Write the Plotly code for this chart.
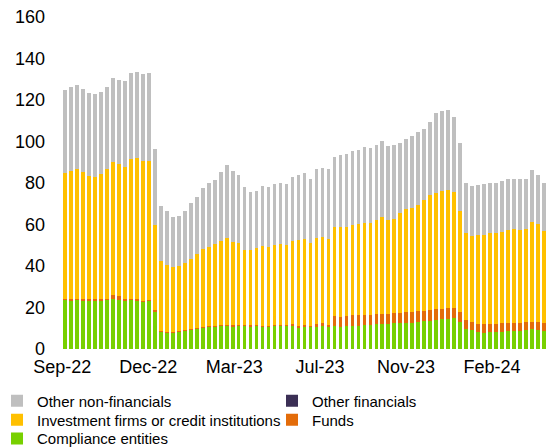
import plotly.graph_objects as go

# Stacked segment values, weekly observations, 81 bars
compliance = [23.8, 23.6, 23.7, 23.6, 23.5, 23.6, 23.4, 23.7, 23.9, 23.5,
              23.6, 23.9, 23.6, 22.8, 23.3, 18.3, 8.4, 8.0, 8.0, 8.5,
              8.9, 9.2, 10.0, 10.4, 10.8, 10.8, 11.1, 11.1, 11.0, 11.3,
              11.1, 10.8, 11.3, 10.8, 10.8, 11.1, 11.3, 11.3, 11.3, 10.4,
              10.8, 10.8, 10.8, 11.1, 10.8, 11.1, 10.8, 11.1, 11.3, 11.2,
              11.6, 11.6, 11.9, 11.9, 11.9, 12.4, 12.5, 12.5, 12.7, 13.0,
              13.3, 13.7, 14.0, 14.5, 14.6, 15.1, 13.0, 9.8, 9.0, 8.0,
              7.9, 8.0, 8.4, 8.4, 8.7, 8.7, 8.8, 9.2, 9.5, 9.2,
              8.7]
funds = [0.5, 0.5, 0.5, 0.5, 0.5, 0.5, 0.5, 0.5, 2.1, 2.0,
         0.4, 0.3, 0.4, 0.5, 0.5, 0.6, 0.2, 0.2, 0.2, 0.2,
         0.2, 0.3, 0.3, 0.3, 0.5, 0.5, 0.5, 0.6, 0.5, 0.5,
         0.5, 0.6, 0.5, 0.5, 0.5, 0.5, 0.5, 0.5, 0.6, 0.7,
         0.8, 0.5, 1.4, 1.6, 0.8, 4.8, 4.8, 5.0, 5.1, 5.0,
         4.8, 4.8, 5.0, 5.0, 5.0, 4.8, 5.0, 5.1, 5.1, 5.1,
         5.2, 5.1, 5.1, 4.8, 5.2, 4.5, 4.8, 4.2, 3.9, 4.2,
         4.0, 3.9, 3.8, 4.0, 3.8, 4.0, 3.9, 3.7, 3.5, 4.0,
         4.0]
other_financials = [0.0, 0.0, 0.0, 0.0, 0.0, 0.0, 0.0, 0.0, 0.0, 0.0,
                    0.0, 0.0, 0.0, 0.0, 0.0, 0.0, 0.0, 0.0, 0.0, 0.0,
                    0.0, 0.0, 0.0, 0.0, 0.0, 0.0, 0.0, 0.0, 0.0, 0.0,
                    0.0, 0.0, 0.0, 0.0, 0.0, 0.0, 0.0, 0.0, 0.0, 0.0,
                    0.0, 0.0, 0.0, 0.0, 0.0, 0.0, 0.0, 0.0, 0.0, 0.0,
                    0.0, 0.0, 0.0, 0.0, 0.0, 0.0, 0.0, 0.0, 0.0, 0.0,
                    0.0, 0.0, 0.0, 0.0, 0.0, 0.0, 0.0, 0.0, 0.0, 0.0,
                    0.0, 0.0, 0.0, 0.0, 0.0, 0.0, 0.0, 0.0, 0.0, 0.0,
                    0.0]
investment_firms = [60.6, 61.5, 62.5, 61.4, 59.3, 58.9, 60.2, 62.5, 64.3, 63.5,
                    63.9, 67.2, 67.9, 67.3, 66.8, 40.7, 34.0, 32.3, 31.5, 31.5,
                    32.5, 34.0, 35.5, 37.5, 38.0, 39.2, 40.3, 42.0, 40.2, 39.1,
                    36.3, 36.5, 37.0, 38.5, 38.0, 38.5, 38.6, 38.3, 40.0, 41.3,
                    41.6, 39.6, 41.1, 41.1, 41.3, 42.8, 43.4, 42.9, 43.2, 43.9,
                    44.5, 44.2, 45.3, 46.9, 45.3, 45.5, 48.2, 49.7, 50.3, 51.4,
                    53.3, 55.2, 56.1, 56.8, 57.0, 56.2, 48.9, 41.7, 41.7, 42.6,
                    43.2, 44.2, 43.9, 44.0, 44.8, 45.1, 44.6, 44.8, 48.4, 46.9,
                    44.2]
other_non_financials = [39.8, 40.5, 40.5, 40.0, 40.1, 39.9, 39.6, 39.8, 40.3, 40.6,
                        41.3, 41.5, 41.6, 41.9, 42.6, 36.9, 26.3, 25.9, 24.1, 23.9,
                        24.8, 26.7, 27.6, 29.2, 30.5, 30.9, 33.5, 35.0, 34.1, 33.0,
                        30.0, 27.8, 27.5, 28.8, 28.6, 29.4, 29.4, 29.6, 31.1, 31.5,
                        31.8, 31.0, 33.6, 33.4, 33.8, 34.0, 34.5, 35.0, 35.8, 35.8,
                        36.4, 36.5, 36.1, 36.3, 35.8, 35.8, 33.4, 34.1, 34.6, 34.9,
                        34.4, 35.6, 38.4, 38.6, 38.5, 36.2, 32.7, 24.1, 24.0, 24.2,
                        24.4, 24.1, 24.1, 24.6, 24.5, 24.3, 24.5, 24.1, 24.9, 23.8,
                        22.9]

tick_labels = ["Sep-22", "Dec-22", "Mar-23", "Jul-23", "Nov-23", "Feb-24"]
y_ticks = [0, 20, 40, 60, 80, 100, 120, 140, 160]

weeks = list(range(len(compliance)))
tick_positions = [-0.45, 13.9, 28.25, 42.6, 56.95, 71.3]

# (name, values, colour, legend id)
series = [
    ("Compliance entities", compliance, "#78D000", "legend5"),
    ("Funds", funds, "#E36C0A", "legend4"),
    ("Other financials", other_financials, "#3B2F55", "legend2"),
    ("Investment firms or credit institutions", investment_firms, "#FFC000", "legend3"),
    ("Other non-financials", other_non_financials, "#BFBFBF", "legend"),
]

fig = go.Figure()
for name, vals, color, leg in series:
    fig.add_trace(go.Bar(x=weeks, y=vals, name=name, marker_color=color,
                         marker_line_width=0, legend=leg))

font_family = "Liberation Sans, Arial, sans-serif"
leg_font = dict(size=15, family=font_family, color="#000000")
col1_x = -0.134
col2_x = 0.433
row_y = [-0.107, -0.164, -0.221]


def leg(x, y):
    return dict(orientation="v", x=x, xanchor="left", y=y, yanchor="top",
                font=leg_font, bgcolor="rgba(0,0,0,0)", itemwidth=30)


fig.update_layout(
    barmode="stack",
    bargap=0.38,
    width=547, height=448,
    margin=dict(l=62, r=0, t=17, b=99, autoexpand=False),
    paper_bgcolor="white", plot_bgcolor="white",
    font=dict(family=font_family, size=18, color="#000000"),
    xaxis=dict(range=[-0.5, 80.5], tickmode="array", tickvals=tick_positions,
               ticktext=tick_labels, showgrid=False, zeroline=False,
               showline=False, ticks="", ticklabelstandoff=5,
               tickfont=dict(size=18)),
    yaxis=dict(range=[0, 160], tickmode="array", tickvals=y_ticks,
               showgrid=False, zeroline=False, showline=False, ticks="",
               ticklabelstandoff=16, tickfont=dict(size=18)),
    legend=leg(col1_x, row_y[0]),
    legend2=leg(col2_x, row_y[0]),
    legend3=leg(col1_x, row_y[1]),
    legend4=leg(col2_x, row_y[1]),
    legend5=leg(col1_x, row_y[2]),
    showlegend=True,
)

fig.write_html("out.html",
               config={"displayModeBar": False},
               post_script="document.body.style.margin='0';"
                           "document.body.style.overflow='hidden';")
